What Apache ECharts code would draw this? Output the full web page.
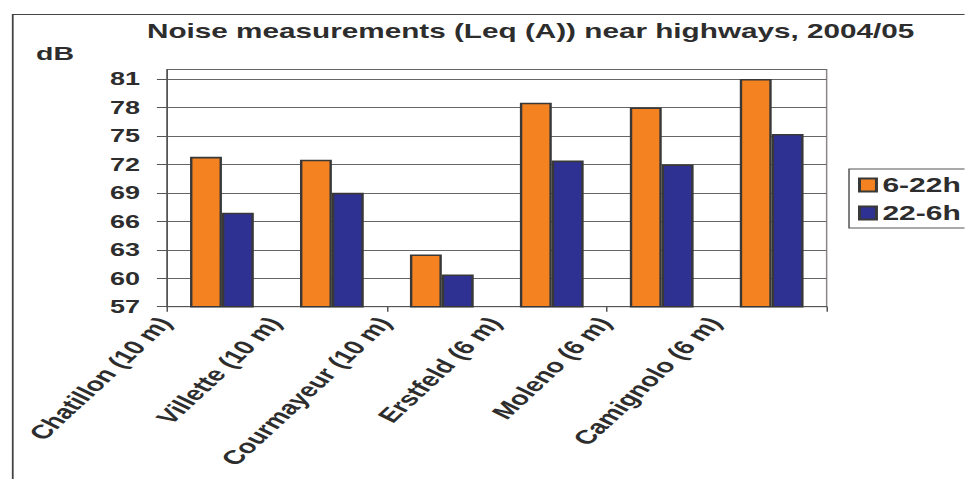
<!DOCTYPE html>
<html>
<head>
<meta charset="utf-8">
<script src="https://cdn.jsdelivr.net/npm/echarts@6/dist/echarts.min.js"></script>
<style>
  html, body { margin: 0; padding: 0; background: #fff; overflow: hidden; }
  #wrap { width: 965px; height: 479px; overflow: hidden; position: relative; }
  /* the chart is laid out narrow and widened horizontally, giving the broad lettering */
  #chart { width: 643px; height: 479px; transform: scaleX(1.5); transform-origin: 0 0; }
</style>
</head>
<body>
<div id="wrap"><div id="chart"></div></div>
<script>
// Measuring sites (distance from the motorway)
const categories = ['Chatillon (10 m)', 'Villette (10 m)', 'Courmayeur (10 m)', 'Erstfeld (6 m)', 'Moleno (6 m)', 'Camignolo (6 m)'];
// Leq (A) in dB
const dayValues = [72.8, 72.5, 62.5, 78.5, 78.0, 81.0];
const nightValues = [66.9, 69.0, 60.4, 72.4, 72.0, 75.2];
const seriesNames = ['6-22h', '22-6h'];
const yTicks = [57, 60, 63, 66, 69, 72, 75, 78, 81];
const yMax = 82;

const FONT = '"Liberation Sans", Arial, sans-serif';
const INK = '#2d2d2d';

// site names sit on the boundary ticks, one slot per boundary
const labelSlots = categories.concat(['']);

const chart = echarts.init(document.getElementById('chart'), null, { renderer: 'svg', width: 643, height: 479 });

chart.setOption({
  animation: false,
  backgroundColor: '#fff',
  title: {
    text: 'Noise measurements (Leq (A)) near highways, 2004/05',
    left: 98,
    top: 21,
    padding: 0,
    textStyle: { fontFamily: FONT, fontSize: 19.8, fontWeight: 'bold', color: INK }
  },
  graphic: [
    {
      type: 'rect',
      left: 6, top: 12,
      shape: { width: 1000, height: 1000 },
      style: { fill: 'none', stroke: '#444', lineWidth: 1.2 },
      silent: true
    },
    {
      type: 'text',
      left: 24, top: 44,
      style: { text: 'dB', font: 'bold 19px ' + FONT, fill: INK }
    }
  ],
  legend: {
    data: seriesNames,
    orient: 'vertical',
    left: 566,
    top: 169,
    padding: [6, 30, 5, 6],
    itemGap: 8,
    itemWidth: 11.3,
    itemHeight: 13,
    backgroundColor: '#fff',
    borderColor: '#555',
    borderWidth: 1,
    icon: 'rect',
    textStyle: { fontFamily: FONT, fontSize: 20, fontWeight: 'bold', color: INK, padding: [0, 0, 0, -1] }
  },
  grid: {
    left: 111.3,
    right: 91.9,
    top: 69.5,
    bottom: 172.3,
    show: true,
    borderColor: '#8e8686',
    borderWidth: 1,
    containLabel: false
  },
  xAxis: [
    {
      type: 'category',
      data: categories,
      boundaryGap: true,
      axisLine: { lineStyle: { color: '#555', width: 1 } },
      axisTick: { show: true, length: 5, lineStyle: { color: '#555' } },
      axisLabel: { show: false },
      splitLine: { show: false }
    },
    {
      type: 'category',
      data: labelSlots,
      boundaryGap: false,
      position: 'bottom',
      axisLine: { show: false },
      axisTick: { show: false },
      splitLine: { show: false },
      axisLabel: {
        interval: 0,
        rotate: 54,
        margin: 10,
        fontFamily: FONT,
        fontSize: 19.5,
        fontWeight: 'bold',
        color: INK,
        padding: [0, 3, 0, 0]
      }
    }
  ],
  yAxis: {
    type: 'value',
    min: yTicks[0],
    max: yMax,
    interval: yTicks[1] - yTicks[0],
    axisLine: { show: true, lineStyle: { color: '#555', width: 1 } },
    axisTick: { show: true, length: 6.7, lineStyle: { color: '#555' } },
    axisLabel: {
      showMaxLabel: false,
      margin: 18,
      fontFamily: FONT,
      fontSize: 18,
      fontWeight: 'bold',
      color: INK
    },
    splitLine: { show: true, lineStyle: { color: '#666', width: 1 } }
  },
  series: [
    {
      name: seriesNames[0],
      type: 'bar',
      data: dayValues,
      barGap: '0%',
      barCategoryGap: '42%',
      itemStyle: { color: '#f58220', borderColor: '#383838', borderWidth: 1.6 }
    },
    {
      name: seriesNames[1],
      type: 'bar',
      data: nightValues,
      barGap: '0%',
      barCategoryGap: '42%',
      itemStyle: { color: '#2e3192', borderColor: '#383838', borderWidth: 1.6 }
    }
  ]
});
</script>
</body>
</html>
